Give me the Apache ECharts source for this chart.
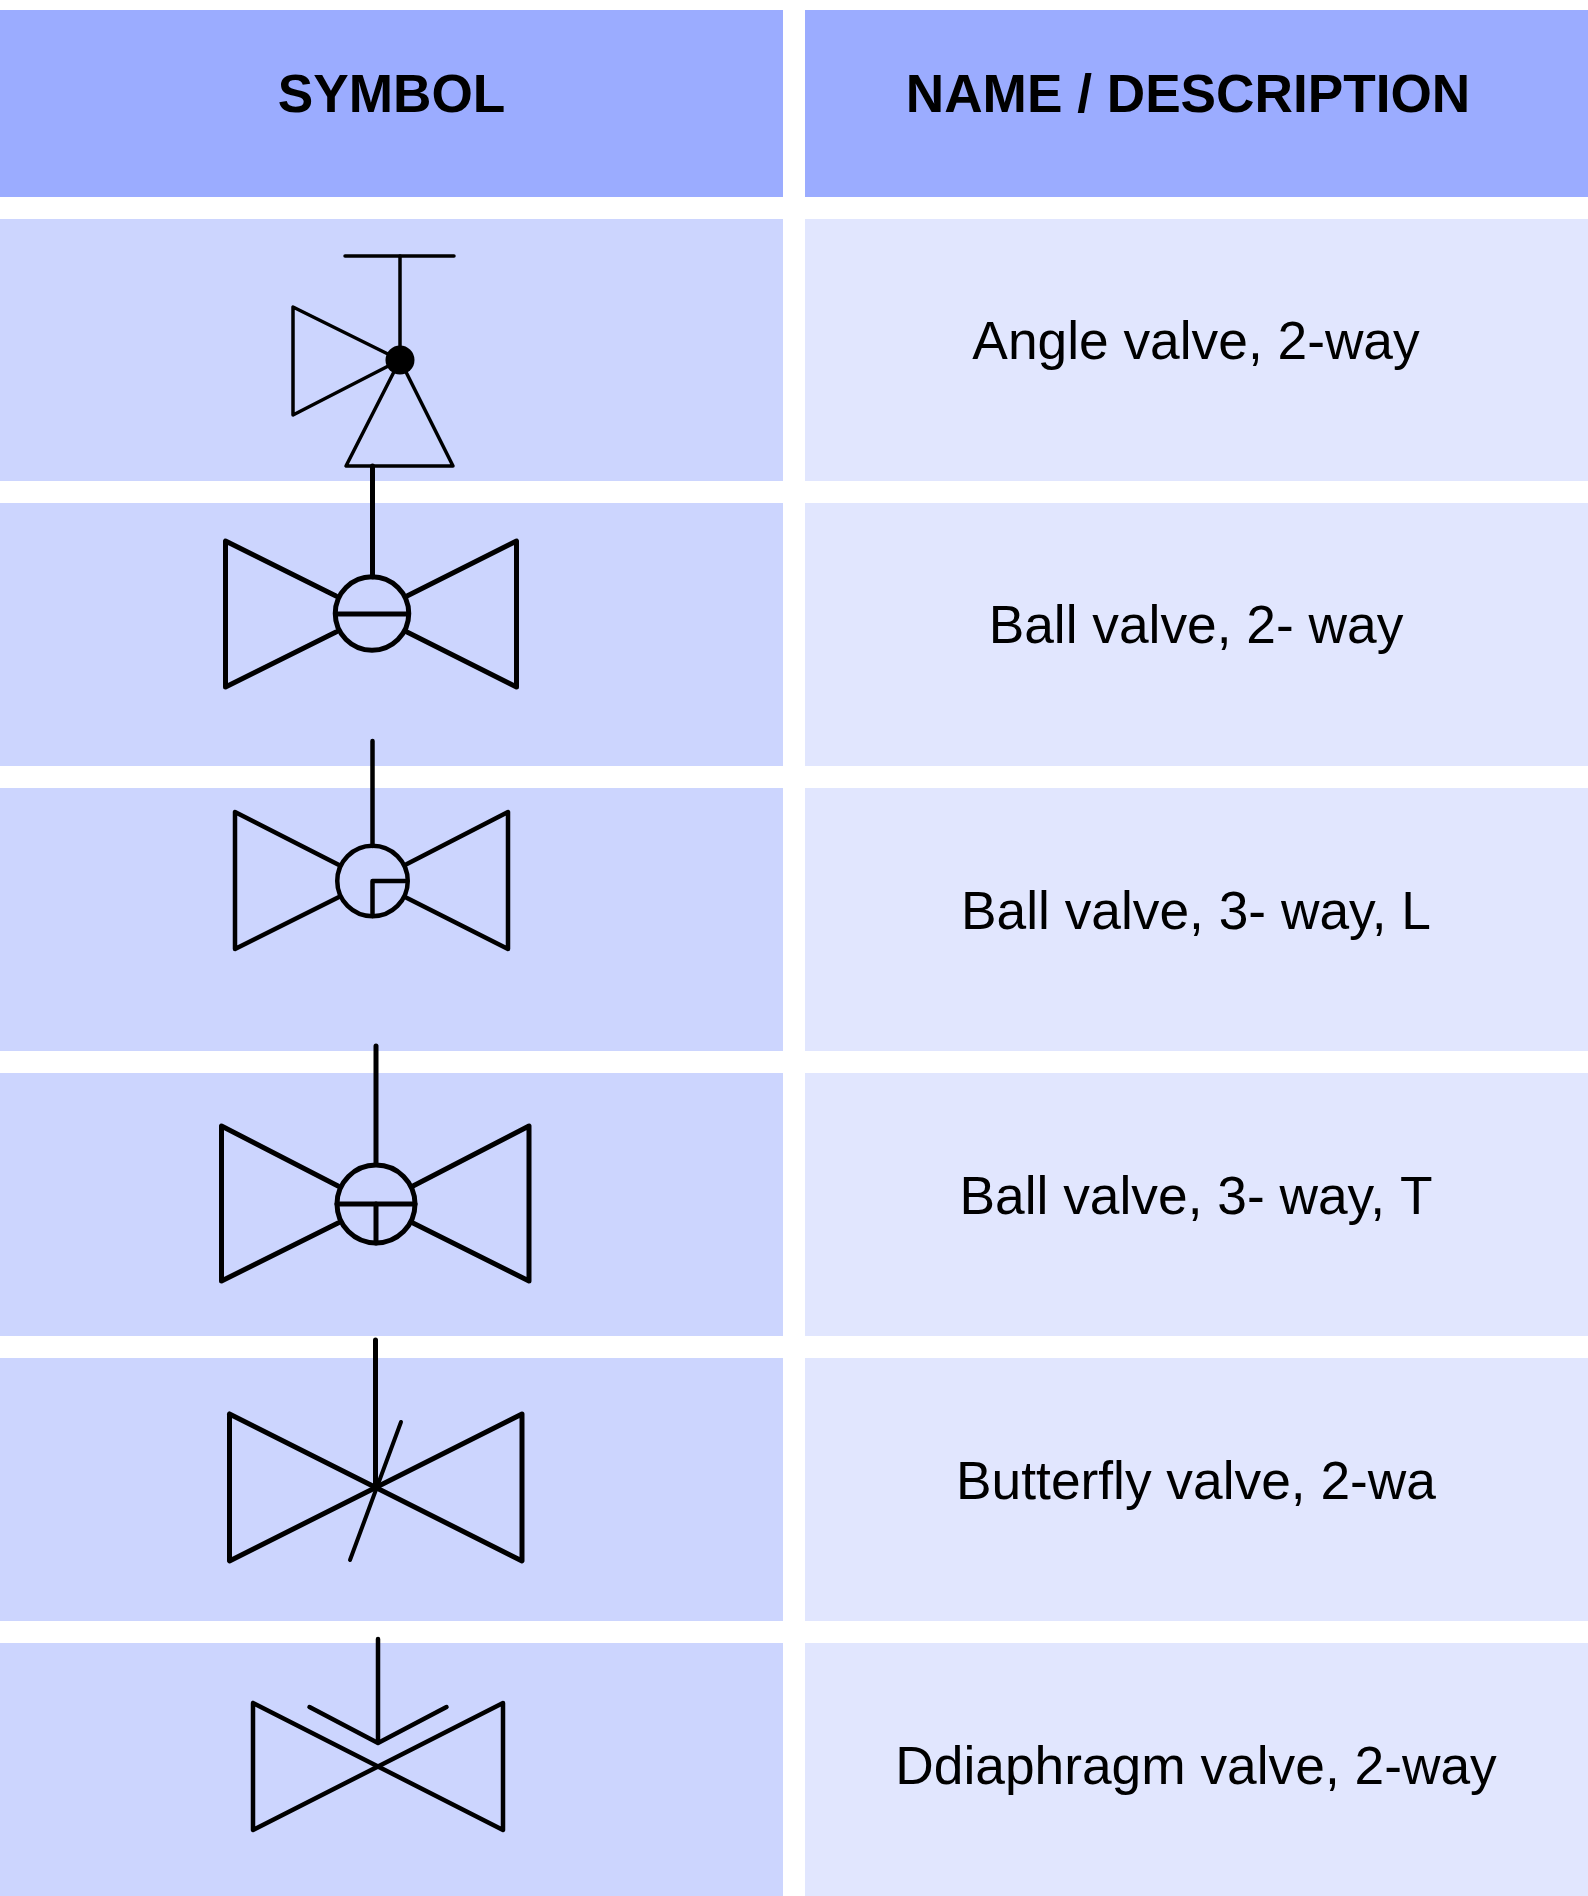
<!DOCTYPE html>
<html lang="en">

<head>
    <meta charset="UTF-8">
    <title>Valve symbols</title>
    <style>
        body { margin: 0; background: #fff; }
    </style>
    <script src="https://cdn.jsdelivr.net/npm/echarts@6/dist/echarts.min.js"></script>
</head>

<body>
    <div id="main" style="width:1588px;height:1896px"></div>
    <script>
        var headers = ["SYMBOL", "NAME / DESCRIPTION"];
        var headerX = [391.5, 1188];
        var headerY = [97, 97];
        var names = ["Angle valve, 2-way", "Ball valve, 2- way", "Ball valve, 3- way, L", "Ball valve, 3- way, T", "Butterfly valve, 2-wa", "Ddiaphragm valve, 2-way"];
        var nameX = [1196, 1196, 1196, 1196, 1196, 1196];
        var nameY = [344.5, 628.5, 914, 1199, 1484, 1769.5];
        var rowTops = [10, 219, 503, 788, 1073, 1358, 1643];
        var rowBottoms = [197, 481, 766, 1051, 1336, 1621, 1896];
        var colLefts = [0, 805];
        var colRights = [783, 1588];

        // every symbol is a list of polylines, the circles come after them as [x, y, diameter]
        var anglePaths = [
            [[345, 256], [454, 256]],
            [[400, 256], [400, 360]],
            [[400, 360], [293, 307], [293, 415], [400, 360]],
            [[400, 360], [346, 466], [453, 466], [400, 360]]
        ];
        var ball2Paths = [
            [[372.5, 466], [372.5, 577]],
            [[336, 596], [225.5, 541], [225.5, 687], [336, 632]],
            [[407, 596], [516.5, 541], [516.5, 687], [407, 632]],
            [[336, 614], [408, 614]]
        ];
        var ballLPaths = [
            [[372.5, 741], [372.5, 846]],
            [[339, 865], [235, 812], [235, 949], [339, 897]],
            [[405, 865], [508, 812], [508, 949], [405, 897]],
            [[405, 881], [372.5, 881], [372.5, 916]]
        ];
        var ballTPaths = [
            [[376, 1046], [376, 1163]],
            [[338, 1186], [221.5, 1126], [221.5, 1281], [338, 1223]],
            [[413, 1186], [529, 1126], [529, 1281], [413, 1223]],
            [[337, 1204], [415, 1204]],
            [[376, 1204], [376, 1243]]
        ];
        var butterflyPaths = [
            [[375.5, 1340], [375.5, 1487]],
            [[229.5, 1414], [522, 1561], [522, 1414], [229.5, 1561], [229.5, 1414]]
        ];
        var butterflySlash = [
            [[401, 1422], [350, 1560]]
        ];
        var diaphragmPaths = [
            [[378, 1639], [378, 1742]],
            [[309.5, 1707], [378, 1743], [446.5, 1707]],
            [[253, 1703], [503, 1830], [503, 1703], [253, 1830], [253, 1703]]
        ];
        var hollowCircles = [[372, 613.5, 73.5], [372.5, 881, 70.5], [376, 1204, 78]];
        var hollowCircleWidths = [5, 4.5, 5];
        var solidDot = [[400, 360, 29]];

        var myChart = echarts.init(document.getElementById('main'));

        function lineSeries(paths, width) {
            return paths.map(function (p) {
                return {
                    type: 'line',
                    data: p,
                    symbol: 'none',
                    silent: true,
                    z: 5,
                    lineStyle: { color: '#000', width: width, cap: 'round', join: 'round' }
                };
            });
        }

        function cellColor(col, row) {
            if (row == 0) return '#9bacff';
            return col == 0 ? '#ccd5fe' : '#e1e6fe';
        }

        var cells = [];
        for (var c = 0; c < colLefts.length; c++) {
            for (var r = 0; r < rowTops.length; r++) {
                cells.push([colLefts[c], rowTops[r], colRights[c], rowBottoms[r], c, r]);
            }
        }

        function textSeries(xs, ys, texts, size, weight) {
            return {
                type: 'custom',
                silent: true,
                z: 6,
                data: xs.map(function (x, i) { return [x, ys[i]]; }),
                renderItem: function (params, api) {
                    var p = api.coord([api.value(0), api.value(1)]);
                    return {
                        type: 'text',
                        style: {
                            x: p[0],
                            y: p[1],
                            text: texts[params.dataIndex],
                            fontFamily: '"Liberation Sans"',
                            fontSize: size,
                            fontWeight: weight,
                            fill: '#000',
                            align: 'center',
                            verticalAlign: 'middle'
                        }
                    };
                }
            };
        }

        var series = [{
            type: 'custom',
            silent: true,
            z: 1,
            data: cells,
            renderItem: function (params, api) {
                var a = api.coord([api.value(0), api.value(1)]);
                var b = api.coord([api.value(2), api.value(3)]);
                return {
                    type: 'rect',
                    shape: { x: a[0], y: a[1], width: b[0] - a[0], height: b[1] - a[1] },
                    style: { fill: cellColor(api.value(4), api.value(5)) }
                };
            }
        }];

        series = series.concat(
            lineSeries(anglePaths, 3.5),
            lineSeries(ball2Paths, 5),
            lineSeries(ballLPaths, 4.5),
            lineSeries(ballTPaths, 5),
            lineSeries(butterflyPaths, 5),
            lineSeries(butterflySlash, 4),
            lineSeries(diaphragmPaths, 4.5)
        );

        series.push({
            type: 'custom',
            silent: true,
            z: 5,
            data: hollowCircles,
            renderItem: function (params, api) {
                var p = api.coord([api.value(0), api.value(1)]);
                return {
                    type: 'circle',
                    shape: { cx: p[0], cy: p[1], r: api.value(2) / 2 },
                    style: { fill: 'none', stroke: '#000', lineWidth: hollowCircleWidths[params.dataIndex] }
                };
            }
        });
        series.push({
            type: 'scatter',
            silent: true,
            z: 5,
            data: solidDot,
            symbol: 'circle',
            symbolSize: function (v) { return v[2]; },
            itemStyle: { color: '#000', opacity: 1 }
        });
        series.push(textSeries(headerX, headerY, headers, 53.2, 'bold'));
        series.push(textSeries(nameX, nameY, names, 53.3, 'normal'));

        var option = {
            animation: false,
            backgroundColor: '#fff',
            grid: { left: 0, right: 0, top: 0, bottom: 0 },
            tooltip: { show: false },
            xAxis: { type: 'value', min: 0, max: 1588, show: false },
            yAxis: { type: 'value', min: 0, max: 1896, inverse: true, show: false },
            series: series
        };
        myChart.setOption(option);
    </script>
</body>

</html>
